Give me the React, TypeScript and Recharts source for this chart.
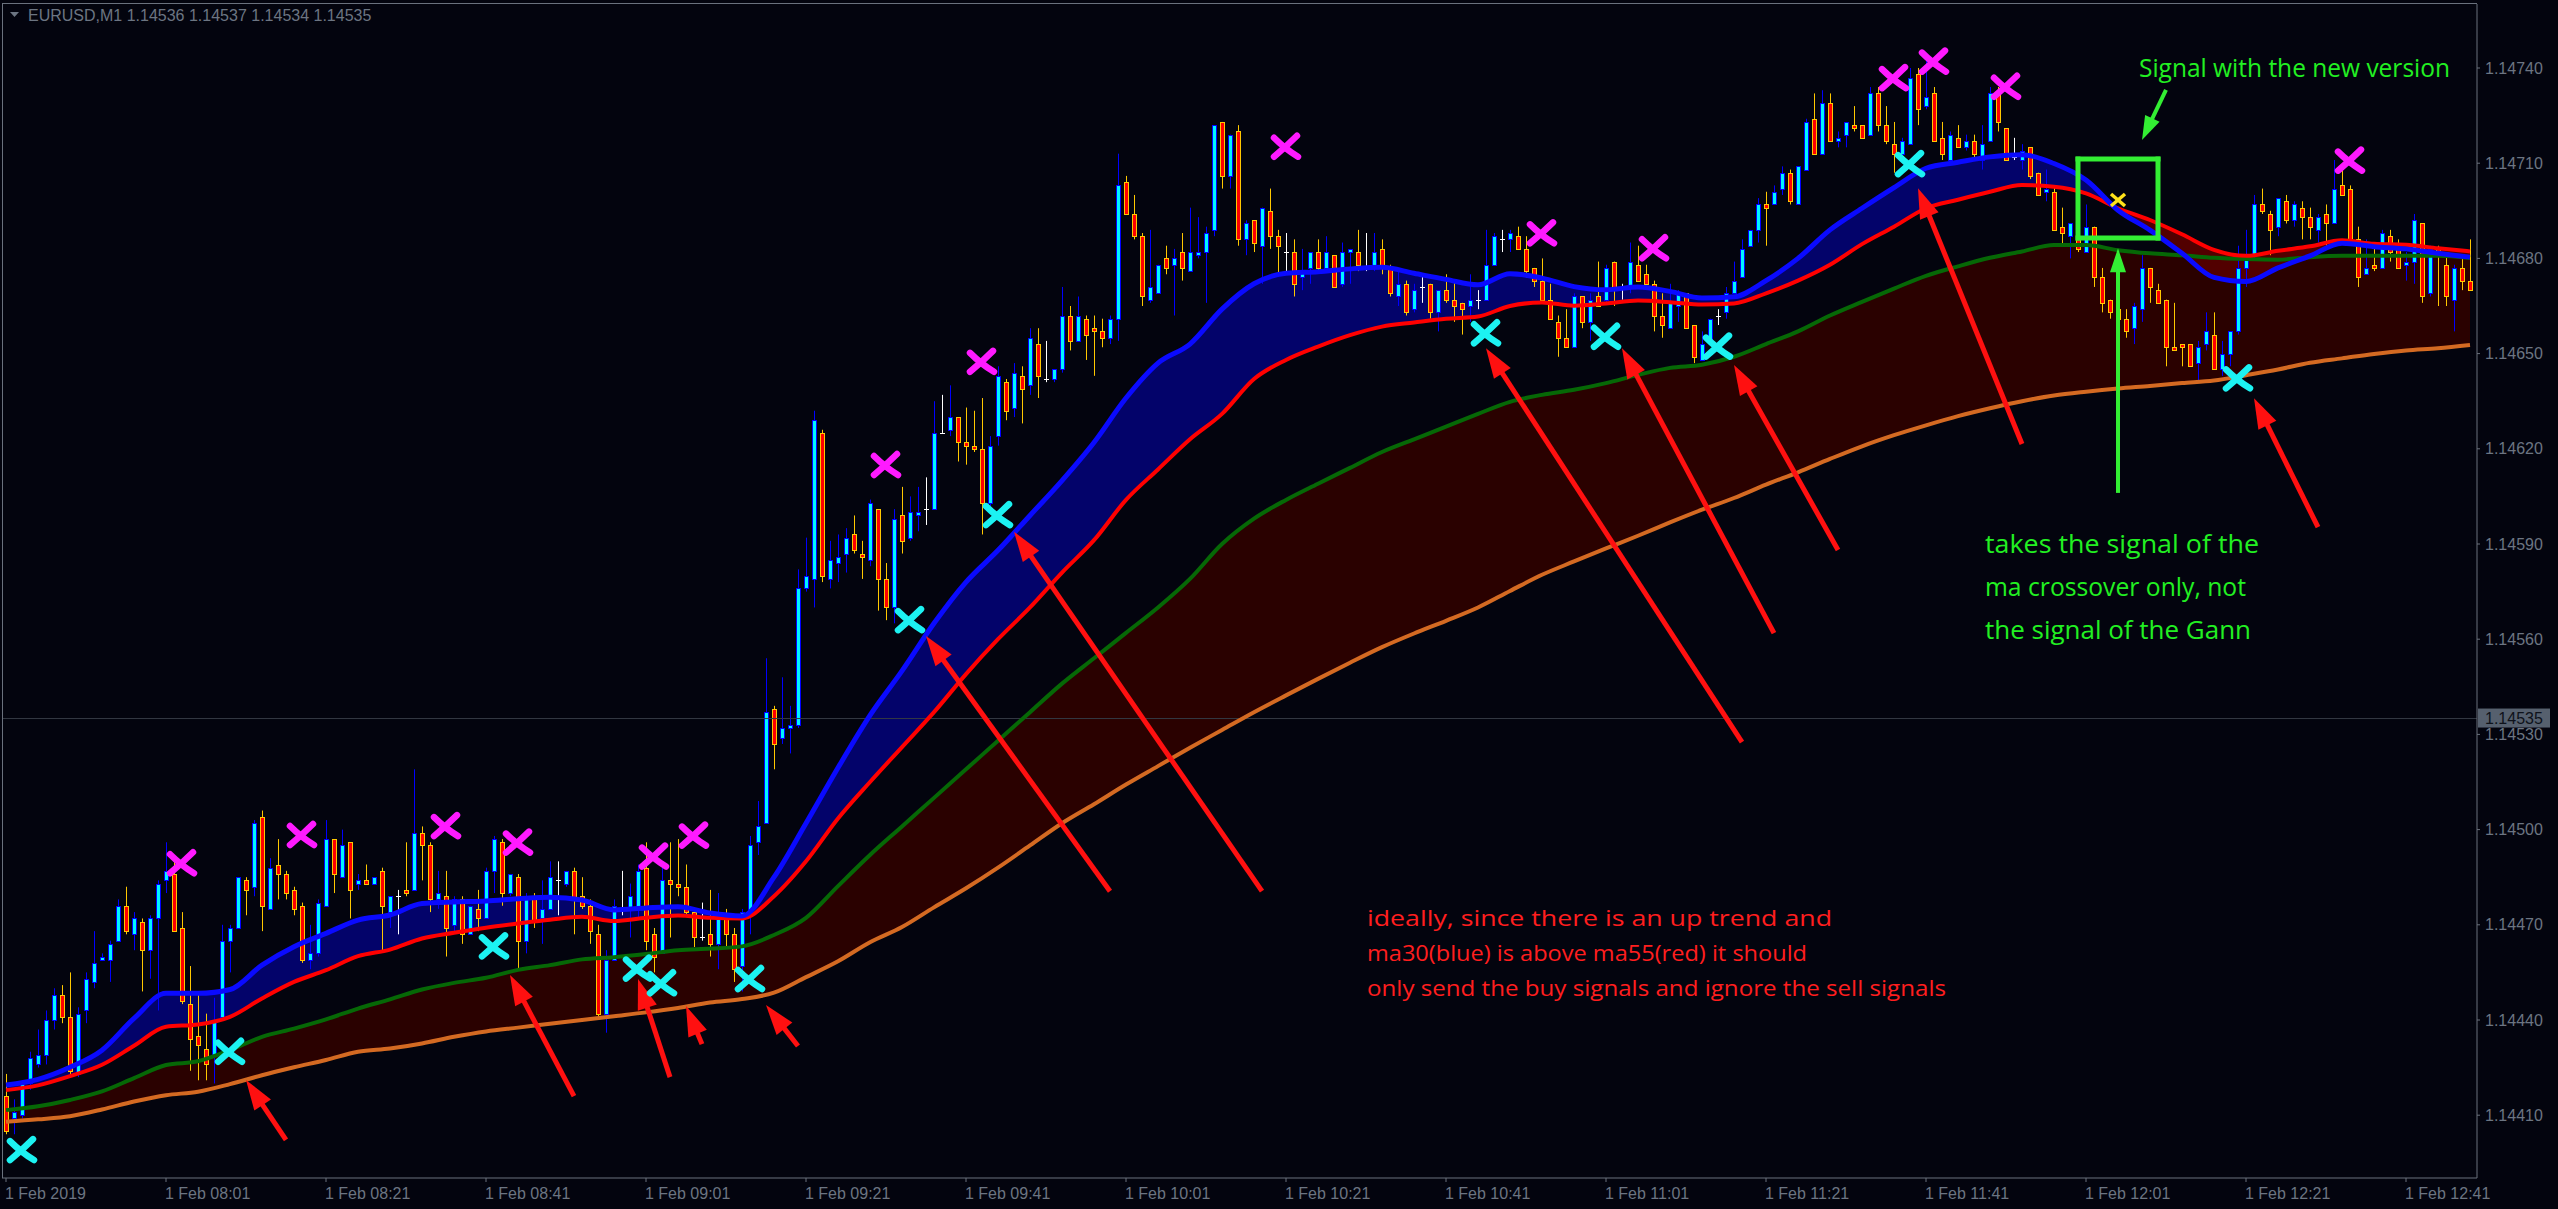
import React from "react";
import { ComposedChart, Bar, Line, Area, XAxis, YAxis, ReferenceLine, ReferenceDot } from "recharts";

const W = 2558;
const H = 1209;
const Y_MIN = 1.1439021;
const Y_MAX = 1.1476017;

const priceTicks = [1.1441, 1.1444, 1.1447, 1.145, 1.1453, 1.1456, 1.1459, 1.1462, 1.1465, 1.1468, 1.1471, 1.1474];
const timeLabels = ["1 Feb 2019", "1 Feb 08:01", "1 Feb 08:21", "1 Feb 08:41", "1 Feb 09:01", "1 Feb 09:21", "1 Feb 09:41", "1 Feb 10:01", "1 Feb 10:21", "1 Feb 10:41", "1 Feb 11:01", "1 Feb 11:21", "1 Feb 11:41", "1 Feb 12:01", "1 Feb 12:21", "1 Feb 12:41"];
const symbolTitle = "EURUSD,M1  1.14536 1.14537 1.14534 1.14535";
const currentPrice = 1.14535;

const openP = [1.14416,1.14409,1.14410,1.14420,1.14426,1.14429,1.14440,1.14448,1.14441,1.14423,
1.14443,1.14452,1.14459,1.14459,1.14465,1.14476,1.14467,1.14471,1.14462,1.14472,
1.14484,1.14486,1.14469,1.14445,1.14435,1.14431,1.14429,1.14441,1.14465,1.14469,
1.14484,1.14482,1.14504,1.14475,1.14489,1.14486,1.14481,1.14476,1.14459,1.14461,
1.14476,1.14497,1.14485,1.14496,1.14483,1.14484,1.14483,1.14487,1.14474,1.14479,
1.14481,1.14481,1.14499,1.14495,1.14478,1.14479,1.14470,1.14478,1.14467,1.14475,
1.14472,1.14487,1.14496,1.14480,1.14485,1.14465,1.14479,1.14472,1.14475,1.14484,
1.14483,1.14487,1.14479,1.14476,1.14467,1.14442,1.14459,1.14475,1.14475,1.14476,
1.14488,1.14467,1.14461,1.14484,1.14483,1.14482,1.14474,1.14466,1.14467,1.14464,
1.14473,1.14467,1.14457,1.14473,1.14496,1.14502,1.14538,1.14529,1.14532,1.14533,
1.14576,1.14579,1.14625,1.14579,1.14584,1.14587,1.14593,1.14587,1.14585,1.14601,
1.14579,1.14570,1.14599,1.14592,1.14599,1.14601,1.14601,1.14625,1.14626,1.14630,
1.14622,1.14621,1.14620,1.14603,1.14624,1.14641,1.14633,1.14643,1.14640,1.14653,
1.14642,1.14642,1.14645,1.14662,1.14654,1.14661,1.14658,1.14657,1.14655,1.14661,
1.14704,1.14694,1.14687,1.14667,1.14669,1.14680,1.14678,1.14682,1.14676,1.14681,
1.14682,1.14689,1.14723,1.14706,1.14720,1.14686,1.14692,1.14684,1.14695,1.14687,
1.14682,1.14682,1.14674,1.14677,1.14682,1.14677,1.14681,1.14672,1.14682,1.14682,
1.14677,1.14678,1.14683,1.14677,1.14668,1.14672,1.14664,1.14671,1.14672,1.14663,
1.14670,1.14667,1.14666,1.14665,1.14667,1.14667,1.14678,1.14686,1.14686,1.14687,
1.14683,1.14677,1.14673,1.14667,1.14660,1.14655,1.14652,1.14668,1.14660,1.14668,
1.14667,1.14679,1.14671,1.14671,1.14678,1.14675,1.14672,1.14662,1.14658,1.14665,
1.14669,1.14659,1.14648,1.14654,1.14662,1.14663,1.14669,1.14674,1.14684,1.14689,
1.14697,1.14697,1.14702,1.14707,1.14697,1.14708,1.14724,1.14713,1.14729,1.14717,
1.14719,1.14722,1.14722,1.14719,1.14732,1.14722,1.14716,1.14713,1.14716,1.14738,
1.14728,1.14732,1.14718,1.14711,1.14718,1.14715,1.14717,1.14711,1.14717,1.14732,
1.14721,1.14712,1.14711,1.14715,1.14707,1.14701,1.14701,1.14690,1.14687,1.14687,
1.14682,1.14690,1.14674,1.14667,1.14664,1.14661,1.14658,1.14664,1.14677,1.14670,
1.14667,1.14652,1.14653,1.14653,1.14647,1.14653,1.14656,1.14645,1.14650,1.14657,
1.14677,1.14681,1.14697,1.14694,1.14690,1.14698,1.14692,1.14696,1.14693,1.14689,
1.14694,1.14691,1.14703,1.14702,1.14686,1.14675,1.14678,1.14677,1.14687,1.14683,
1.14678,1.14679,1.14691,1.14669,1.14683,1.14678,1.14667,1.14677,1.14673];

const highP = [1.14423,1.14415,1.14421,1.14430,1.14437,1.14443,1.14450,1.14451,1.14455,1.14444,
1.14455,1.14468,1.14461,1.14465,1.14478,1.14482,1.14474,1.14472,1.14473,1.14484,
1.14496,1.14492,1.14474,1.14457,1.14449,1.14442,1.14447,1.14470,1.14470,1.14485,
1.14485,1.14503,1.14506,1.14491,1.14497,1.14487,1.14482,1.14477,1.14470,1.14478,
1.14503,1.14497,1.14500,1.14496,1.14486,1.14489,1.14485,1.14488,1.14479,1.14481,
1.14496,1.14519,1.14501,1.14496,1.14487,1.14487,1.14479,1.14479,1.14476,1.14481,
1.14488,1.14498,1.14497,1.14486,1.14486,1.14480,1.14480,1.14484,1.14490,1.14490,
1.14487,1.14488,1.14485,1.14478,1.14470,1.14462,1.14478,1.14487,1.14483,1.14489,
1.14496,1.14469,1.14490,1.14496,1.14497,1.14489,1.14474,1.14477,1.14481,1.14480,
1.14475,1.14469,1.14475,1.14498,1.14509,1.14554,1.14539,1.14548,1.14539,1.14582,
1.14592,1.14632,1.14626,1.14591,1.14593,1.14595,1.14599,1.14591,1.14604,1.14601,
1.14584,1.14601,1.14608,1.14605,1.14608,1.14611,1.14635,1.14637,1.14640,1.14630,
1.14633,1.14632,1.14636,1.14624,1.14646,1.14642,1.14647,1.14646,1.14658,1.14658,
1.14654,1.14645,1.14671,1.14665,1.14668,1.14662,1.14662,1.14661,1.14662,1.14713,
1.14706,1.14700,1.14688,1.14689,1.14678,1.14684,1.14683,1.14688,1.14696,1.14693,
1.14690,1.14722,1.14723,1.14719,1.14722,1.14692,1.14692,1.14696,1.14702,1.14689,
1.14688,1.14686,1.14683,1.14682,1.14686,1.14687,1.14681,1.14685,1.14683,1.14689,
1.14688,1.14688,1.14686,1.14678,1.14676,1.14673,1.14672,1.14675,1.14672,1.14670,
1.14675,1.14673,1.14666,1.14675,1.14670,1.14689,1.14688,1.14689,1.14689,1.14690,
1.14687,1.14677,1.14680,1.14672,1.14662,1.14664,1.14669,1.14668,1.14669,1.14679,
1.14678,1.14679,1.14672,1.14685,1.14684,1.14678,1.14673,1.14669,1.14672,1.14670,
1.14669,1.14659,1.14657,1.14661,1.14664,1.14671,1.14679,1.14686,1.14689,1.14699,
1.14701,1.14703,1.14709,1.14708,1.14709,1.14724,1.14732,1.14733,1.14732,1.14720,
1.14723,1.14728,1.14722,1.14734,1.14734,1.14728,1.14723,1.14718,1.14740,1.14740,
1.14743,1.14734,1.14723,1.14720,1.14722,1.14719,1.14719,1.14722,1.14734,1.14734,
1.14721,1.14718,1.14716,1.14715,1.14707,1.14708,1.14703,1.14696,1.14691,1.14689,
1.14697,1.14690,1.14677,1.14667,1.14664,1.14664,1.14666,1.14681,1.14677,1.14672,
1.14667,1.14666,1.14653,1.14653,1.14654,1.14663,1.14663,1.14654,1.14657,1.14684,
1.14689,1.14700,1.14702,1.14695,1.14699,1.14700,1.14698,1.14698,1.14696,1.14694,
1.14697,1.14711,1.14709,1.14703,1.14690,1.14686,1.14685,1.14689,1.14689,1.14686,
1.14682,1.14694,1.14691,1.14684,1.14684,1.14681,1.14678,1.14681,1.14686];

const lowP = [1.14404,1.14404,1.14409,1.14418,1.14425,1.14426,1.14437,1.14439,1.14423,1.14422,
1.14439,1.14450,1.14459,1.14452,1.14465,1.14467,1.14462,1.14449,1.14453,1.14443,
1.14480,1.14468,1.14445,1.14424,1.14421,1.14421,1.14420,1.14441,1.14455,1.14469,
1.14473,1.14479,1.14468,1.14475,1.14478,1.14478,1.14473,1.14458,1.14456,1.14460,
1.14476,1.14480,1.14485,1.14472,1.14481,1.14483,1.14483,1.14462,1.14469,1.14467,
1.14479,1.14481,1.14484,1.14474,1.14475,1.14460,1.14468,1.14464,1.14467,1.14468,
1.14472,1.14480,1.14476,1.14479,1.14456,1.14461,1.14469,1.14464,1.14475,1.14473,
1.14482,1.14467,1.14475,1.14464,1.14440,1.14436,1.14459,1.14473,1.14466,1.14472,
1.14462,1.14455,1.14461,1.14466,1.14479,1.14473,1.14463,1.14465,1.14460,1.14456,
1.14463,1.14452,1.14449,1.14467,1.14492,1.14502,1.14519,1.14527,1.14524,1.14532,
1.14575,1.14570,1.14578,1.14576,1.14578,1.14581,1.14587,1.14579,1.14583,1.14569,
1.14566,1.14565,1.14587,1.14591,1.14594,1.14596,1.14601,1.14625,1.14624,1.14616,
1.14615,1.14619,1.14593,1.14602,1.14621,1.14629,1.14630,1.14628,1.14637,1.14636,
1.14641,1.14641,1.14644,1.14651,1.14654,1.14648,1.14643,1.14652,1.14653,1.14654,
1.14694,1.14686,1.14665,1.14666,1.14669,1.14675,1.14662,1.14673,1.14676,1.14680,
1.14666,1.14687,1.14702,1.14702,1.14684,1.14681,1.14682,1.14672,1.14683,1.14675,
1.14676,1.14668,1.14670,1.14672,1.14676,1.14676,1.14671,1.14671,1.14672,1.14676,
1.14676,1.14676,1.14675,1.14668,1.14665,1.14662,1.14663,1.14666,1.14661,1.14657,
1.14666,1.14660,1.14656,1.14660,1.14664,1.14667,1.14678,1.14682,1.14682,1.14683,
1.14674,1.14671,1.14666,1.14661,1.14649,1.14652,1.14652,1.14658,1.14654,1.14665,
1.14666,1.14665,1.14667,1.14669,1.14673,1.14672,1.14657,1.14655,1.14658,1.14660,
1.14658,1.14647,1.14648,1.14653,1.14659,1.14661,1.14669,1.14674,1.14684,1.14685,
1.14684,1.14697,1.14700,1.14697,1.14697,1.14708,1.14713,1.14713,1.14717,1.14715,
1.14715,1.14720,1.14718,1.14719,1.14720,1.14716,1.14707,1.14711,1.14716,1.14722,
1.14727,1.14717,1.14711,1.14711,1.14715,1.14714,1.14711,1.14708,1.14717,1.14720,
1.14711,1.14711,1.14708,1.14705,1.14700,1.14698,1.14689,1.14684,1.14680,1.14682,
1.14682,1.14671,1.14663,1.14661,1.14660,1.14655,1.14653,1.14660,1.14666,1.14666,
1.14646,1.14651,1.14646,1.14646,1.14641,1.14651,1.14645,1.14643,1.14646,1.14656,
1.14671,1.14680,1.14694,1.14681,1.14687,1.14691,1.14690,1.14686,1.14686,1.14685,
1.14684,1.14691,1.14700,1.14685,1.14671,1.14675,1.14676,1.14677,1.14679,1.14677,
1.14673,1.14672,1.14666,1.14668,1.14665,1.14665,1.14657,1.14670,1.14670];

const closeP = [1.14405,1.14411,1.14420,1.14428,1.14429,1.14440,1.14448,1.14441,1.14424,1.14442,
1.14453,1.14458,1.14460,1.14464,1.14476,1.14468,1.14472,1.14462,1.14472,1.14483,
1.14487,1.14468,1.14446,1.14434,1.14432,1.14426,1.14440,1.14465,1.14469,1.14485,
1.14481,1.14502,1.14476,1.14488,1.14486,1.14480,1.14475,1.14459,1.14461,1.14477,
1.14497,1.14486,1.14495,1.14481,1.14484,1.14483,1.14485,1.14476,1.14479,1.14479,
1.14480,1.14499,1.14495,1.14478,1.14480,1.14469,1.14478,1.14467,1.14476,1.14472,
1.14487,1.14497,1.14480,1.14486,1.14465,1.14479,1.14471,1.14475,1.14485,1.14484,
1.14487,1.14478,1.14476,1.14468,1.14442,1.14459,1.14476,1.14475,1.14479,1.14487,
1.14465,1.14460,1.14484,1.14483,1.14482,1.14474,1.14466,1.14466,1.14464,1.14472,
1.14467,1.14456,1.14474,1.14495,1.14501,1.14537,1.14527,1.14532,1.14533,1.14576,
1.14580,1.14629,1.14580,1.14585,1.14586,1.14592,1.14588,1.14586,1.14603,1.14579,
1.14570,1.14598,1.14591,1.14600,1.14600,1.14601,1.14625,1.14625,1.14630,1.14622,
1.14621,1.14620,1.14603,1.14621,1.14643,1.14632,1.14644,1.14639,1.14655,1.14643,
1.14642,1.14645,1.14662,1.14654,1.14662,1.14656,1.14657,1.14655,1.14661,1.14703,
1.14694,1.14687,1.14668,1.14671,1.14678,1.14677,1.14680,1.14677,1.14682,1.14682,
1.14688,1.14722,1.14706,1.14719,1.14686,1.14691,1.14685,1.14696,1.14687,1.14684,
1.14682,1.14672,1.14676,1.14682,1.14677,1.14682,1.14671,1.14682,1.14683,1.14678,
1.14677,1.14682,1.14677,1.14669,1.14672,1.14663,1.14670,1.14671,1.14663,1.14670,
1.14667,1.14665,1.14664,1.14667,1.14667,1.14678,1.14687,1.14686,1.14688,1.14683,
1.14676,1.14673,1.14667,1.14661,1.14655,1.14652,1.14668,1.14660,1.14667,1.14665,
1.14677,1.14671,1.14671,1.14679,1.14673,1.14672,1.14662,1.14659,1.14666,1.14669,
1.14658,1.14649,1.14653,1.14661,1.14662,1.14669,1.14673,1.14683,1.14689,1.14697,
1.14696,1.14701,1.14707,1.14698,1.14709,1.14723,1.14713,1.14729,1.14717,1.14718,
1.14723,1.14721,1.14718,1.14732,1.14722,1.14717,1.14713,1.14717,1.14737,1.14727,
1.14731,1.14717,1.14713,1.14719,1.14715,1.14717,1.14713,1.14716,1.14732,1.14723,
1.14711,1.14712,1.14714,1.14706,1.14700,1.14702,1.14689,1.14688,1.14691,1.14683,
1.14690,1.14674,1.14666,1.14663,1.14661,1.14657,1.14665,1.14677,1.14671,1.14666,
1.14652,1.14651,1.14652,1.14646,1.14652,1.14657,1.14645,1.14650,1.14657,1.14677,
1.14681,1.14697,1.14695,1.14689,1.14699,1.14692,1.14697,1.14693,1.14690,1.14693,
1.14691,1.14702,1.14700,1.14685,1.14674,1.14677,1.14677,1.14688,1.14682,1.14677,
1.14679,1.14692,1.14668,1.14683,1.14681,1.14668,1.14677,1.14673,1.14670];

const maBars = [0,4,8,12,16,20,24,28,32,36,40,44,48,52,56,60,64,68,72,76,80,84,88,92,96,100,104,108,112,116,120,124,128,132,136,140,144,148,152,156,160,164,168,172,176,180,184,188,192,196,200,204,208,212,216,220,224,228,232,236,240,244,248,252,256,260,264,268,272,276,280,284,288,292,296,300,304,308];

const blueMA = [1.144195,1.144213,1.144251,1.144305,1.144405,1.144484,1.144484,1.144496,1.144573,1.144631,
1.144673,1.144715,1.144731,1.144767,1.144772,1.144775,1.144782,1.144787,1.144778,1.144747,
1.144753,1.144757,1.144737,1.144728,1.14485,1.14502,1.145195,1.14536,1.1455,1.14565,
1.14578,1.14588,1.14599,1.1461,1.14622,1.14636,1.14647,1.14653,1.14664,1.14672,
1.146753,1.146758,1.146767,1.146772,1.146753,1.146734,1.146717,1.146752,1.146738,1.146711,
1.146701,1.14671,1.146696,1.146675,1.146679,1.14673,1.1468,1.14689,1.146958,1.147023,
1.147084,1.147103,1.14712,1.147127,1.147099,1.147047,1.146952,1.146889,1.146816,1.14674,
1.146727,1.14677,1.146808,1.146848,1.146837,1.14683,1.146816,1.146804];

const redMA = [1.144179,1.144194,1.144223,1.144259,1.144319,1.144379,1.144386,1.14441,1.144468,1.14452,
1.144557,1.144601,1.144622,1.144657,1.144675,1.144691,1.144704,1.144716,1.144725,1.144712,
1.144722,1.144729,1.144722,1.14472,1.14479,1.1449,1.145035,1.14515,1.14526,1.14537,
1.14549,1.1456,1.1457,1.14581,1.145912,1.146039,1.146135,1.14623,1.14631,1.14642,
1.14648,1.146522,1.146558,1.146585,1.146598,1.14661,1.146617,1.14665,1.146661,1.146651,
1.146658,1.146667,1.146662,1.146655,1.146658,1.14669,1.14673,1.14678,1.146845,1.1469,
1.146958,1.146985,1.14701,1.147031,1.147026,1.147005,1.146958,1.146921,1.146876,1.146827,
1.146808,1.146824,1.146838,1.146857,1.146846,1.146843,1.146832,1.146822];

const greenMA = [1.144116,1.144128,1.144148,1.144175,1.144217,1.144258,1.14427,1.144305,1.144347,1.144373,
1.144402,1.144436,1.144465,1.144496,1.144517,1.144533,1.144558,1.144573,1.144591,1.144598,
1.144608,1.14462,1.144625,1.144632,1.144668,1.144722,1.144822,1.14492,1.14501,1.1451,
1.14519,1.14528,1.14537,1.14546,1.14554,1.14562,1.1457,1.14579,1.1459,1.14598,
1.146039,1.14609,1.14614,1.14619,1.14623,1.14627,1.14631,1.146348,1.14637,1.146386,
1.146407,1.146433,1.146455,1.146465,1.14649,1.14653,1.14657,1.14662,1.146663,1.146705,
1.146745,1.146775,1.146802,1.146822,1.146842,1.146842,1.146826,1.146816,1.14681,1.146802,
1.146798,1.146796,1.146804,1.146808,1.146808,1.146808,1.146808,1.146801];

const orangeMA = [1.144079,1.144087,1.144097,1.144118,1.144143,1.144163,1.144174,1.144198,1.144226,1.144251,
1.144274,1.1443,1.14431,1.144326,1.144347,1.144364,1.144376,1.144388,1.1444,1.144412,
1.144424,1.144438,1.144455,1.144466,1.144486,1.144535,1.144585,1.144645,1.144693,1.144755,
1.144815,1.14488,1.14495,1.14502,1.14508,1.145142,1.1452,1.145258,1.145314,1.14537,
1.145423,1.145475,1.145526,1.145575,1.145618,1.145658,1.1457,1.145752,1.145803,1.145845,
1.145886,1.145926,1.145968,1.146008,1.146045,1.146087,1.146126,1.146168,1.146208,1.146243,
1.146274,1.146303,1.146328,1.14635,1.146368,1.14638,1.14639,1.146398,1.146407,1.146415,
1.146432,1.14645,1.146471,1.146485,1.146499,1.14651,1.146517,1.146527];

const sellBars = [22, 37, 55, 64, 81, 86, 110, 122, 160, 192, 206, 236, 241, 250, 293];
const sellPrices = [1.144894, 1.144983, 1.145011, 1.144959, 1.144915, 1.144981, 1.146149, 1.146474, 1.147152, 1.146879, 1.146832, 1.147368, 1.14742, 1.147341, 1.147108];
const buyBars = [2, 28, 61, 79, 82, 93, 113, 124, 185, 200, 214, 238, 279];
const buyPrices = [1.14399, 1.1443, 1.144632, 1.144562, 1.144516, 1.144529, 1.14566, 1.145991, 1.146564, 1.146553, 1.146522, 1.147097, 1.146422];

// annotation anchors (bar index, price)
const redArrowTailBar = [35, 71, 83, 87, 99, 138, 157, 217, 221, 229, 252, 289];
const redArrowTailPrice = [1.144022, 1.14416, 1.14422, 1.144324, 1.144318, 1.144806, 1.144806, 1.145276, 1.145619, 1.145881, 1.146215, 1.145953];
const redArrowTipBar = [30, 63, 79, 85, 95, 115, 126, 185, 202, 216, 239, 281];
const redArrowTipPrice = [1.144211, 1.144542, 1.144529, 1.144444, 1.144447, 1.14561, 1.145939, 1.146517, 1.146517, 1.146464, 1.147021, 1.146359];
const greenArrowTailBar = [270, 264];
const greenArrowTailPrice = [1.147331, 1.146061];
const greenArrowTipBar = [267, 264];
const greenArrowTipPrice = [1.147173, 1.146832];
const boxBars = [259, 269];
const boxPrices = [1.146864, 1.147113];
const crossSignal = { bar: 264, price: 1.146984 };

const greenTitle = "Signal with the new version";
const greenNote = ["takes the signal of the", "ma crossover only, not", "the signal of the Gann"];
const greenNoteWidths = [274, 261, 266];
const redNote = ["ideally, since there is an up trend and", "ma30(blue) is above ma55(red) it should", "only send the buy signals and ignore the sell signals"];
const redNoteWidths = [465, 440, 579];

type Row = {
  i: number; o: number; h: number; l: number; c: number;
  blue?: number; red?: number; green?: number; orange?: number;
  sell?: number; buy?: number;
};

const rows: Row[] = openP.map((o, i) => ({ i, o, h: highP[i], l: lowP[i], c: closeP[i] }));
maBars.forEach((b, k) => {
  rows[b].blue = blueMA[k];
  rows[b].red = redMA[k];
  rows[b].green = greenMA[k];
  rows[b].orange = orangeMA[k];
});
sellBars.forEach((b, k) => { rows[b].sell = sellPrices[k]; });
buyBars.forEach((b, k) => { rows[b].buy = buyPrices[k]; });

const BG = "#03040e";
const AXIS = "#6a717d";
const TXT = "#6c7582";
const AXIS_FONT = "'Liberation Sans', Arial, sans-serif";
const NOTE_FONT = "'Open Sans', 'Noto Sans', sans-serif";
const GREEN_TXT = "#22f022";
const RED_TXT = "#ff1e1e";

function CandleShape(props: any) {
  const { x, y, width, height, payload } = props;
  if (!payload) return <g />;
  const { o, h, l, c } = payload as Row;
  const top = Math.min(y, y + height);
  const bot = Math.max(y, y + height);
  const k = h > l ? (bot - top) / (h - l) : 0;
  const py = (v: number) => top + (h - v) * k;
  const cx = Math.round(x + width / 2);
  const yo = py(o);
  const yc = py(c);
  if (o === c) {
    const yy = Math.round(yo) + 0.5;
    return (
      <g>
        <line x1={cx + 0.5} x2={cx + 0.5} y1={top} y2={bot} stroke="#ffffff" strokeWidth={1} />
        <line x1={cx - 2} x2={cx + 3} y1={yy} y2={yy} stroke="#ffffff" strokeWidth={1} />
      </g>
    );
  }
  const bull = c > o;
  const edge = bull ? "#0000ff" : "#ffc800";
  const fill = bull ? "#00f4ff" : "#ff0000";
  const bt = Math.round(Math.min(yo, yc));
  const bb = Math.round(Math.max(yo, yc));
  return (
    <g>
      <line x1={cx + 0.5} x2={cx + 0.5} y1={top} y2={bot} stroke={edge} strokeWidth={1} />
      <rect x={cx - 1.5} y={bt + 0.5} width={4} height={Math.max(bb - bt, 1)} fill={fill} stroke={edge} strokeWidth={1} />
    </g>
  );
}

function XMark({ cx, cy, color }: { cx: number; cy: number; color: string }) {
  const d1 = `M ${cx - 12} ${cy - 9} Q ${cx - 1} ${cy + 2} ${cx + 12} ${cy + 10}`;
  const d2 = `M ${cx + 11} ${cy - 11} Q ${cx + 1} ${cy - 1} ${cx - 12} ${cy + 10}`;
  return (
    <g>
      <path d={d1} stroke={color} strokeWidth={6.5} fill="none" strokeLinecap="round" />
      <path d={d2} stroke={color} strokeWidth={6.5} fill="none" strokeLinecap="round" />
    </g>
  );
}

const sellDot = (p: any) => {
  if (p.value == null || p.cy == null || Number.isNaN(p.cy)) return <g key={`s${p.index}`} />;
  return <XMark key={`s${p.index}`} cx={p.cx} cy={p.cy} color="#ff1aff" />;
};
const buyDot = (p: any) => {
  if (p.value == null || p.cy == null || Number.isNaN(p.cy)) return <g key={`b${p.index}`} />;
  return <XMark key={`b${p.index}`} cx={p.cx} cy={p.cy} color="#1cf2f2" />;
};

const arrowShape = (color: string, shaft: number, headLen: number, headW: number) => (p: any) => {
  const { x1, y1, x2, y2 } = p;
  const dx = x2 - x1;
  const dy = y2 - y1;
  const len = Math.hypot(dx, dy) || 1;
  const ux = dx / len;
  const uy = dy / len;
  const bx = x2 - ux * headLen;
  const by = y2 - uy * headLen;
  const nx = -uy;
  const ny = ux;
  return (
    <g>
      <line x1={x1} y1={y1} x2={bx + ux * 2} y2={by + uy * 2} stroke={color} strokeWidth={shaft} />
      <polygon
        points={`${x2},${y2} ${bx + (nx * headW) / 2},${by + (ny * headW) / 2} ${bx - (nx * headW) / 2},${by - (ny * headW) / 2}`}
        fill={color}
      />
    </g>
  );
};

const XTick = (p: any) => {
  const v = Number(p.payload && p.payload.value);
  const label = timeLabels[Math.round(v / 20)];
  if (label == null) return <g />;
  return (
    <text x={p.x - 1} y={p.y + 15} fill={TXT} fontSize={16} fontFamily={AXIS_FONT}>
      {label}
    </text>
  );
};

const PriceLabel = (p: any) => {
  const vb = p.viewBox || {};
  const x0 = (vb.x || 0) + (vb.width || 0) + 1;
  const yc = vb.y || 0;
  return (
    <g>
      <rect x={x0} y={yc - 10} width={72} height={19} fill="#56606e" />
      <text x={x0 + 7} y={yc + 5} fill="#0e121a" fontSize={16} fontFamily={AXIS_FONT}>
        {currentPrice.toFixed(5)}
      </text>
    </g>
  );
};

export default function App() {
  const boxSegs = [
    [boxBars[0], boxPrices[1], boxBars[1], boxPrices[1]],
    [boxBars[0], boxPrices[0], boxBars[1], boxPrices[0]],
    [boxBars[0], boxPrices[0], boxBars[0], boxPrices[1]],
    [boxBars[1], boxPrices[0], boxBars[1], boxPrices[1]],
  ];
  return (
    <div style={{ position: "absolute", left: 0, top: 0, width: W, height: H, background: BG, overflow: "hidden" }}>
      <ComposedChart width={W} height={H} data={rows} margin={{ top: 4, right: 0, bottom: 0, left: 2 }}>
        <XAxis
          dataKey="i"
          type="category"
          interval={19}
          height={31}
          tickSize={4}
          tickMargin={2}
          padding={{ left: 0, right: 3 }}
          axisLine={{ stroke: AXIS }}
          tickLine={{ stroke: AXIS }}
          tick={<XTick />}
        />
        <YAxis
          orientation="right"
          type="number"
          width={81}
          domain={[Y_MIN, Y_MAX]}
          allowDataOverflow
          ticks={priceTicks}
          interval={0}
          tickFormatter={(v: number) => v.toFixed(5)}
          tickSize={3}
          tickMargin={5}
          axisLine={{ stroke: AXIS }}
          tickLine={{ stroke: AXIS }}
          tick={{ fill: TXT, fontSize: 16, fontFamily: AXIS_FONT }}
        />
        <ReferenceLine y={currentPrice} stroke="#343944" strokeWidth={1} label={PriceLabel} />
        <Area
          dataKey={(r: Row) => (r.green == null ? null : [r.orange, r.green])}
          type="monotone"
          connectNulls
          stroke="none"
          fill="#2a0100"
          fillOpacity={1}
          isAnimationActive={false}
        />
        <Line dataKey="orange" type="monotone" stroke="#d46a22" strokeWidth={4} dot={false} activeDot={false} connectNulls isAnimationActive={false} />
        <Line dataKey="green" type="monotone" stroke="#066806" strokeWidth={4} dot={false} activeDot={false} connectNulls isAnimationActive={false} />
        <Area
          dataKey={(r: Row) => (r.blue == null ? null : [r.red as number, Math.max(r.blue as number, r.red as number)])}
          type="monotone"
          connectNulls
          stroke="none"
          fill="#03036a"
          fillOpacity={1}
          isAnimationActive={false}
        />
        <Area
          dataKey={(r: Row) => (r.blue == null ? null : [r.blue as number, Math.max(r.blue as number, r.red as number)])}
          type="monotone"
          connectNulls
          stroke="none"
          fill="#520000"
          fillOpacity={1}
          isAnimationActive={false}
        />
        <Line dataKey="red" type="monotone" stroke="#ff0000" strokeWidth={4} dot={false} activeDot={false} connectNulls isAnimationActive={false} />
        <Line dataKey="blue" type="monotone" stroke="#0a0aff" strokeWidth={5} dot={false} activeDot={false} connectNulls isAnimationActive={false} />
        <Bar dataKey={(r: Row) => [r.l, r.h]} shape={(p: any) => <CandleShape {...p} />} isAnimationActive={false} />
        <Line dataKey="sell" stroke="none" dot={sellDot} activeDot={false} isAnimationActive={false} />
        <Line dataKey="buy" stroke="none" dot={buyDot} activeDot={false} isAnimationActive={false} />

        {redArrowTailBar.map((b, k) => (
          <ReferenceLine
            key={`ra${k}`}
            ifOverflow="visible"
            segment={[{ x: b, y: redArrowTailPrice[k] }, { x: redArrowTipBar[k], y: redArrowTipPrice[k] }]}
            shape={arrowShape("#ff1010", 5, 30, 20)}
          />
        ))}
        {greenArrowTailBar.map((b, k) => (
          <ReferenceLine
            key={`ga${k}`}
            ifOverflow="visible"
            segment={[{ x: b, y: greenArrowTailPrice[k] }, { x: greenArrowTipBar[k], y: greenArrowTipPrice[k] }]}
            shape={arrowShape("#33ee33", 4, 24, 16)}
          />
        ))}
        {boxSegs.map((s, k) => (
          <ReferenceLine
            key={`bx${k}`}
            ifOverflow="visible"
            segment={[{ x: s[0], y: s[1] }, { x: s[2], y: s[3] }]}
            stroke="#33ee33"
            strokeWidth={5}
            strokeLinecap="square"
          />
        ))}
        <ReferenceDot
          x={crossSignal.bar}
          y={crossSignal.price}
          r={1}
          ifOverflow="visible"
          shape={(p: any) => (
            <g>
              <line x1={p.cx - 7} y1={p.cy - 6} x2={p.cx + 7} y2={p.cy + 6} stroke="#ffe21a" strokeWidth={3.5} />
              <line x1={p.cx + 7} y1={p.cy - 6} x2={p.cx - 7} y2={p.cy + 6} stroke="#ffe21a" strokeWidth={3.5} />
            </g>
          )}
        />
        <ReferenceDot
          x={267}
          y={1.147372}
          r={1}
          ifOverflow="visible"
          shape={(p: any) => (
            <text x={p.cx - 3} y={p.cy} fill={GREEN_TXT} fontSize={26} fontFamily={NOTE_FONT} textLength={311} lengthAdjust="spacingAndGlyphs">
              {greenTitle}
            </text>
          )}
        />
        <ReferenceDot
          x={248}
          y={1.145871}
          r={1}
          ifOverflow="visible"
          shape={(p: any) => (
            <g>
              {greenNote.map((t, k) => (
                <text key={k} x={p.cx - 5} y={p.cy + k * 43} fill={GREEN_TXT} fontSize={25} fontFamily={NOTE_FONT} textLength={greenNoteWidths[k]} lengthAdjust="spacingAndGlyphs">
                  {t}
                </text>
              ))}
            </g>
          )}
        />
        <ReferenceDot
          x={170}
          y={1.144696}
          r={1}
          ifOverflow="visible"
          shape={(p: any) => (
            <g>
              {redNote.map((t, k) => (
                <text key={k} x={p.cx + 1} y={p.cy + k * 35} fill={RED_TXT} fontSize={22} fontFamily={NOTE_FONT} textLength={redNoteWidths[k]} lengthAdjust="spacingAndGlyphs">
                  {t}
                </text>
              ))}
            </g>
          )}
        />
      </ComposedChart>
      <svg width={W} height={H} style={{ position: "absolute", left: 0, top: 0, pointerEvents: "none" }}>
        <line x1={2.5} y1={3} x2={2.5} y2={1178} stroke={AXIS} strokeWidth={1} />
        <line x1={2} y1={3.5} x2={2477} y2={3.5} stroke={AXIS} strokeWidth={1} />
        <polygon points="10,12 19,12 14.5,17" fill={TXT} />
        <text x={28} y={21} fill={TXT} fontSize={16} fontFamily={AXIS_FONT}>
          {symbolTitle}
        </text>
      </svg>
    </div>
  );
}
